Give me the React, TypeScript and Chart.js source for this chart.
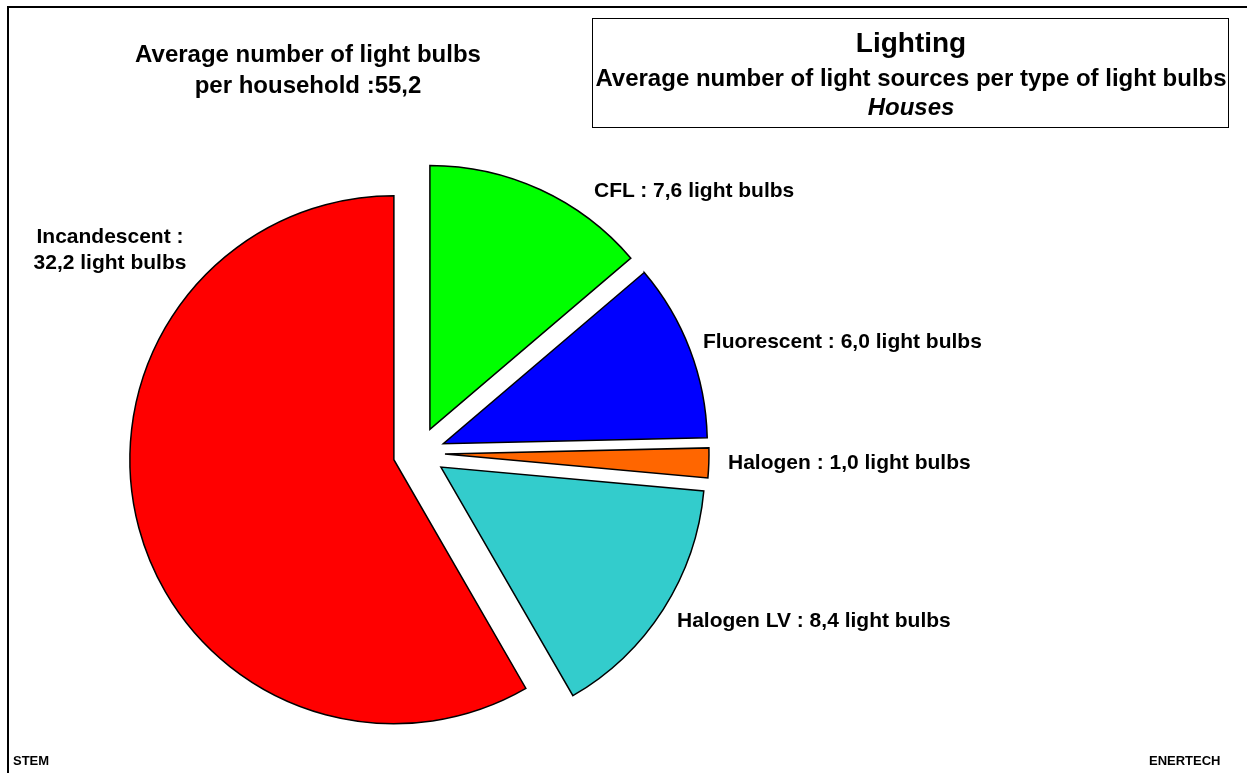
import React, { useEffect, useRef } from "react";
import { Chart, registerables } from "chart.js";

Chart.register(...registerables);

// ---- data ----
const categories = ["CFL", "Fluorescent", "Halogen", "Halogen LV", "Incandescent"];
const values = [7.6, 6.0, 1.0, 8.4, 32.2];
const colors = ["#00FF00", "#0000FF", "#FF6600", "#33CCCC", "#FF0000"];
const unitText = "light bulbs";
const titleLines = ["Lighting", "Average number of light sources per type of light bulbs", "Houses"];
const headerLines = ["Average number of light bulbs", "per household :"];
const footerLeft = "STEM";
const footerRight = "ENERTECH";

const fmt = (v: number) => v.toFixed(1).replace(".", ",");
const total = values.reduce((a, b) => a + b, 0);

// ---- layout (page pixels) ----
const W = 1247;
const H = 773;
const CX = 419;
const CY = 453;
const R = 264;
const EXPLODE = 26;
const FONT = '"Liberation Sans", Arial, Helvetica, sans-serif';

// label anchor positions: [left or center x, baseline y, align]
const labelPos: Array<{ x: number; y: number; align: "left" | "center" }> = [
  { x: 594, y: 197, align: "left" },
  { x: 703, y: 348, align: "left" },
  { x: 728, y: 469, align: "left" },
  { x: 677, y: 627, align: "left" },
  { x: 110, y: 243, align: "center" },
];

const explodePlugin = {
  id: "explodeSlices",
  afterDatasetUpdate(chart: any, args: any) {
    for (const arc of args.meta.data) {
      const mid = (arc.startAngle + arc.endAngle) / 2;
      arc.x += Math.cos(mid) * EXPLODE;
      arc.y += Math.sin(mid) * EXPLODE;
    }
  },
};

function Txt(props: {
  x: number;
  baseline: number;
  size: number;
  align?: "left" | "center";
  italic?: boolean;
  lines: string[];
  lineGap?: number;
}) {
  const { x, baseline, size, align = "left", italic = false, lines, lineGap } = props;
  const lh = lineGap ?? size;
  // baseline offset within a line box of height lh (Arial-like metrics)
  const baseOff = (lh - 1.117 * size) / 2 + 0.905 * size;
  const top = baseline - baseOff;
  const width = 800;
  const style: React.CSSProperties = {
    position: "absolute",
    top,
    left: align === "center" ? x - width / 2 : x,
    width,
    textAlign: align,
    fontFamily: FONT,
    fontWeight: "bold",
    fontStyle: italic ? "italic" : "normal",
    fontSize: size,
    lineHeight: `${lh}px`,
    color: "#000",
    whiteSpace: "pre",
  };
  return (
    <div style={style}>
      {lines.map((l, i) => (
        <div key={i}>{l}</div>
      ))}
    </div>
  );
}

export default function App() {
  const ref = useRef<HTMLCanvasElement | null>(null);

  useEffect(() => {
    if (!ref.current) return;
    const chart = new Chart(ref.current, {
      type: "pie",
      data: {
        labels: categories,
        datasets: [
          {
            data: values,
            backgroundColor: colors,
            borderColor: "#000000",
            borderWidth: 1.5,
            borderJoinStyle: "miter",
            radius: R,
          } as any,
        ],
      },
      options: {
        responsive: false,
        animation: false,
        radius: R,
        events: [],
        layout: {
          padding: {
            left: CX - 300,
            right: W - (CX + 300),
            top: CY - 300,
            bottom: H - (CY + 300),
          },
        },
        plugins: {
          legend: { display: false },
          tooltip: { enabled: false },
          title: { display: false },
        },
      } as any,
      plugins: [explodePlugin],
    });
    return () => chart.destroy();
  }, []);

  const sliceLabels = categories.map((c, i) => {
    const p = labelPos[i];
    const txt = `${c} : ${fmt(values[i])} ${unitText}`;
    const lines = p.align === "center" ? [`${c} :`, `${fmt(values[i])} ${unitText}`] : [txt];
    return (
      <Txt key={c} x={p.x} baseline={p.y} size={21} align={p.align} lines={lines} lineGap={26} />
    );
  });

  return (
    <div
      style={{
        position: "absolute",
        left: 0,
        top: 0,
        width: W,
        height: H,
        overflow: "hidden",
        background: "#fff",
      }}
    >
      <canvas
        ref={ref}
        width={W}
        height={H}
        style={{ position: "absolute", left: 0, top: 0, width: W, height: H }}
      />
      {/* frame */}
      <div
        style={{
          position: "absolute",
          left: 7,
          top: 6,
          width: W,
          height: H,
          borderLeft: "2px solid #000",
          borderTop: "2px solid #000",
        }}
      />
      {/* title box */}
      <div
        style={{
          position: "absolute",
          left: 592,
          top: 18,
          width: 637,
          height: 110,
          boxSizing: "border-box",
          border: "1px solid #000",
        }}
      />
      <Txt x={911} baseline={53} size={28} align="center" lines={[titleLines[0]]} />
      <Txt x={911} baseline={86} size={24} align="center" lines={[titleLines[1]]} />
      <Txt x={911} baseline={115} size={24} align="center" italic lines={[titleLines[2]]} />
      {/* header */}
      <Txt
        x={308}
        baseline={62}
        size={24}
        align="center"
        lineGap={31}
        lines={[headerLines[0], `${headerLines[1]}${fmt(total)}`]}
      />
      {sliceLabels}
      <Txt x={13} baseline={765} size={13} lines={[footerLeft]} />
      <Txt x={1149} baseline={765} size={13} lines={[footerRight]} />
    </div>
  );
}
